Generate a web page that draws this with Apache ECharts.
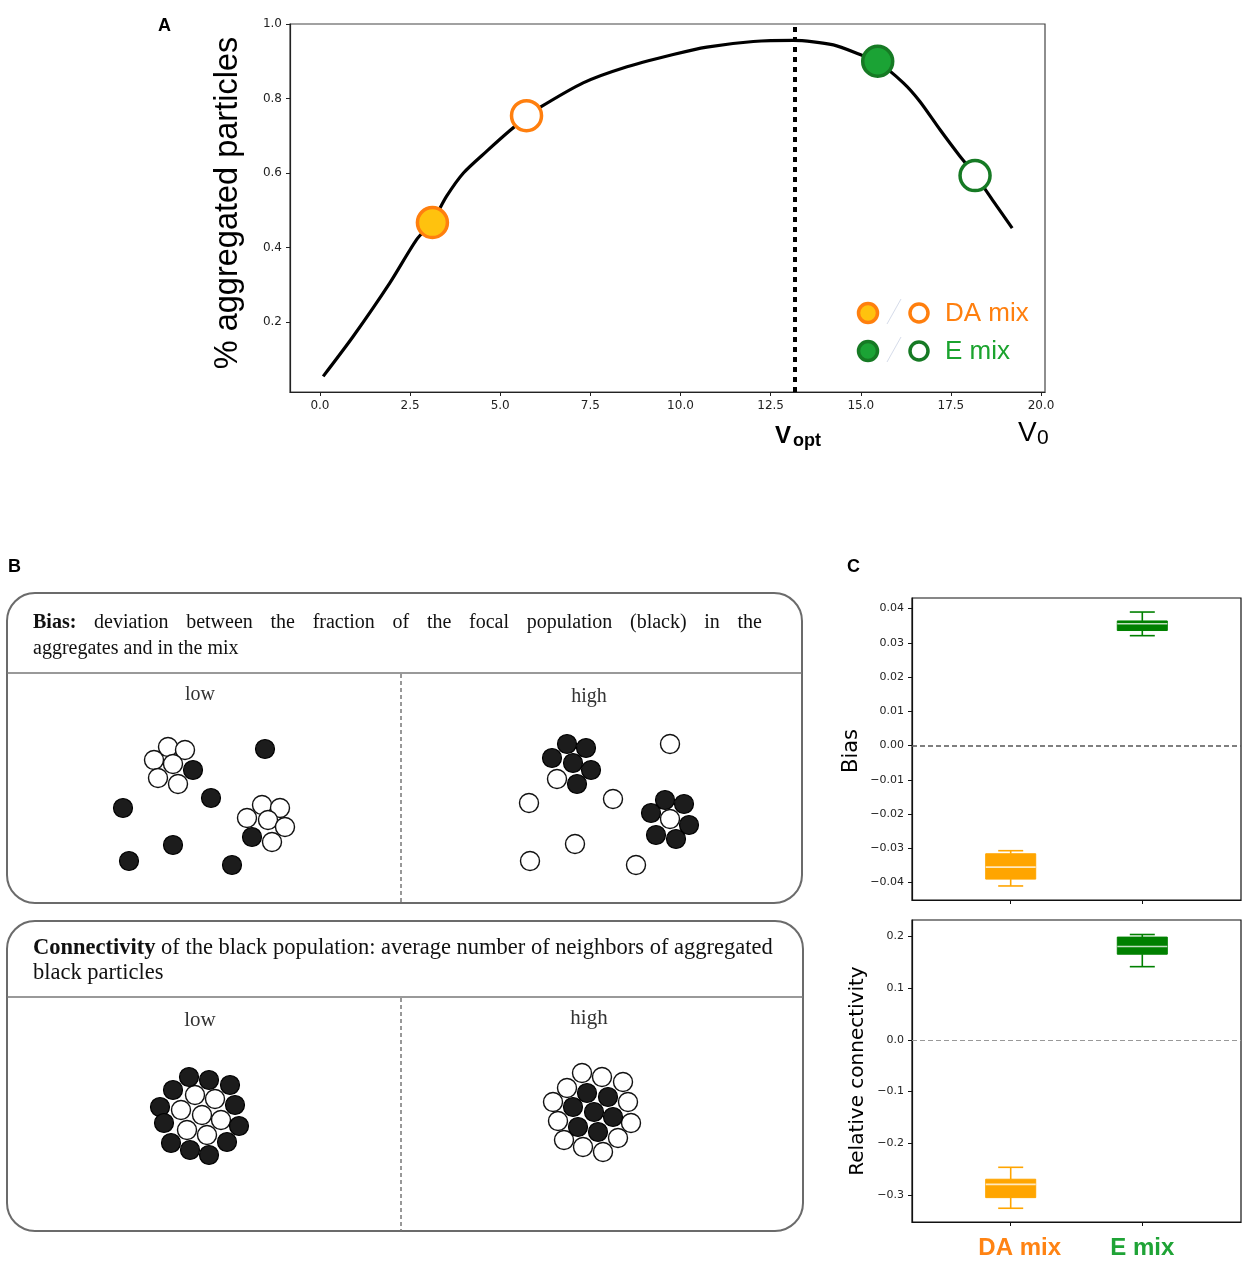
<!DOCTYPE html>
<html>
<head>
<meta charset="utf-8">
<title>Aggregation, bias and connectivity</title>
<script src="https://cdn.jsdelivr.net/npm/echarts@6/dist/echarts.min.js"></script>
<style>
html, body { margin: 0; padding: 0; background: #fff; }
#main { width: 1248px; height: 1261px; }
</style>
</head>
<body>
<div id="main"></div>
<script>
// ---- panel A: aggregated fraction against v0 ----
var v0Values = [0.09, 0.92, 1.94, 2.68, 3.12, 3.51, 3.98, 4.62, 5.27, 5.73, 6.10, 7.30, 8.41, 9.80,
    10.73, 12.02, 13.13, 14.24, 14.98, 15.47, 16.18, 16.64, 17.2, 17.75, 18.17, 18.68, 19.2];
var aggValues = [0.054, 0.161, 0.305, 0.421, 0.470, 0.537, 0.600, 0.658, 0.714, 0.750, 0.776, 0.842, 0.882, 0.918,
    0.938, 0.953, 0.956, 0.944, 0.918, 0.898, 0.842, 0.792, 0.716, 0.645, 0.595, 0.524, 0.452];
var daPoints = [[3.12, 0.467], [5.73, 0.754]];   // filled, open
var ePoints = [[15.47, 0.90], [18.17, 0.593]];   // filled, open
var vOpt = 13.18;
var xTicksA = [0, 2.5, 5, 7.5, 10, 12.5, 15, 17.5, 20];
var yTicksA = [0.2, 0.4, 0.6, 0.8, 1.0];

// ---- panel B: particle sketches (page pixels) ----
var whiteParticles = [
    [168, 747], [185, 750], [154, 760], [173, 764], [158, 778], [178, 784],
    [262, 805], [280, 808], [247, 818], [268, 820], [285, 827], [272, 842],
    [557, 779], [670, 819], [670, 744], [613, 799], [529, 803], [575, 844], [530, 861], [636, 865],
    [195, 1095], [215, 1099], [181, 1110], [202, 1115], [221, 1120], [187, 1130], [207, 1135],
    [582, 1073], [602, 1077], [623, 1082], [567, 1088], [628, 1102], [553, 1102], [631, 1123],
    [558, 1121], [618, 1138], [564, 1140], [583, 1147], [603, 1152]
];
var blackParticles = [
    [193, 770], [252, 837], [265, 749], [211, 798], [123, 808], [173, 845], [129, 861], [232, 865],
    [567, 744], [586, 748], [552, 758], [573, 763], [591, 770], [577, 784],
    [665, 800], [684, 804], [651, 813], [689, 825], [656, 835], [676, 839],
    [189, 1077], [209, 1080], [230, 1085], [173, 1090], [235, 1105], [160, 1107], [239, 1126],
    [164, 1123], [227, 1142], [171, 1143], [190, 1150], [209, 1155],
    [587, 1093], [608, 1097], [573, 1107], [594, 1112], [613, 1117], [578, 1127], [598, 1132]
];

// ---- panel C: boxplots [low whisker, q1, median, q3, high whisker] ----
var mixNames = ['DA mix', 'E mix'];
var biasDA = [-0.041, -0.039, -0.0355, -0.0316, -0.0307];
var biasE = [0.0321, 0.0336, 0.0356, 0.0364, 0.039];
var connDA = [-0.325, -0.3045, -0.279, -0.269, -0.246];
var connE = [0.141, 0.165, 0.180, 0.198, 0.203];
var biasTicks = [-0.04, -0.03, -0.02, -0.01, 0, 0.01, 0.02, 0.03, 0.04];
var connTicks = [-0.3, -0.2, -0.1, 0, 0.1, 0.2];

var boxColors = ['#FFA500', '#008000'];
var tickFont = 'DejaVu Sans';
var serif = 'Liberation Serif';

function fmt(v, d) {
    return (v < -1e-9 ? '\u2212' : '') + Math.abs(v).toFixed(d);
}

function renderBox(params, api) {
    var x = api.value(0);
    var lo = api.coord([x, api.value(1)]);
    var q1 = api.coord([x, api.value(2)]);
    var md = api.coord([x, api.value(3)]);
    var q3 = api.coord([x, api.value(4)]);
    var hi = api.coord([x, api.value(5)]);
    var w = api.size([0.38, 0])[0];
    var c = boxColors[params.dataIndex];
    var cx = q1[0];
    var ln = { stroke: c, lineWidth: 1.6 };
    return {
        type: 'group',
        children: [
            { type: 'line', shape: { x1: cx, y1: q1[1], x2: cx, y2: lo[1] }, style: ln },
            { type: 'line', shape: { x1: cx, y1: q3[1], x2: cx, y2: hi[1] }, style: ln },
            { type: 'line', shape: { x1: cx - w / 4, y1: lo[1], x2: cx + w / 4, y2: lo[1] }, style: ln },
            { type: 'line', shape: { x1: cx - w / 4, y1: hi[1], x2: cx + w / 4, y2: hi[1] }, style: ln },
            { type: 'rect', shape: { x: cx - w / 2, y: q3[1], width: w, height: q1[1] - q3[1] },
              style: { fill: c, stroke: c, lineWidth: 1 } },
            { type: 'line', shape: { x1: cx - w / 2, y1: md[1], x2: cx + w / 2, y2: md[1] },
              style: { stroke: 'rgba(255,255,255,0.75)', lineWidth: 1.6 } }
        ]
    };
}

function boxAxisX(idx, showLabels) {
    return {
        gridIndex: idx, type: 'value', min: 0.25, max: 2.75,
        axisLine: { onZero: false, lineStyle: { color: '#111', width: 1.2 } },
        axisTick: { customValues: [1, 2], length: 4, lineStyle: { color: '#111' } },
        axisLabel: {
            show: showLabels, customValues: [1, 2], margin: 14,
            formatter: function (v) { return v === 1 ? '{da|' + mixNames[0] + '}' : '{e|' + mixNames[1] + '}'; },
            rich: {
                da: { fontFamily: 'Liberation Sans', fontWeight: 'bold', fontSize: 24, color: '#FF8313', padding: [0, 0, 0, 18] },
                e: { fontFamily: 'Liberation Sans', fontWeight: 'bold', fontSize: 24, color: '#1FA336' }
            }
        },
        splitLine: { show: false }
    };
}

function boxAxisY(idx, min, max, ticks, dec) {
    return {
        gridIndex: idx, type: 'value', min: min, max: max,
        axisLine: { show: true, onZero: false, lineStyle: { color: '#111', width: 1.2 } },
        axisTick: { show: true, customValues: ticks, length: 4, lineStyle: { color: '#111' } },
        axisLabel: { customValues: ticks, margin: 8, fontFamily: tickFont, fontSize: 11, color: '#222',
            formatter: function (v) { return fmt(v, dec); } },
        splitLine: { show: false }
    };
}

var myChart = echarts.init(document.getElementById('main'), null, { renderer: 'canvas' });

// justified first line of the bias caption, spread from x=33 to x=762
var headWords = ['Bias:', 'deviation', 'between', 'the', 'fraction', 'of', 'the', 'focal', 'population', '(black)', 'in', 'the'];
var ctx = document.createElement('canvas').getContext('2d');
var widths = headWords.map(function (w, i) {
    ctx.font = (i === 0 ? 'bold ' : '') + '20px "' + serif + '"';
    return ctx.measureText(w).width;
});
var totalW = widths.reduce(function (a, b) { return a + b; }, 0);
var gap = (762 - 33 - totalW) / (headWords.length - 1);

var graphics = [
    { type: 'text', x: 158, y: 26, style: { text: 'A', fontFamily: 'Liberation Sans', fontWeight: 'bold', fontSize: 18, fill: '#000', verticalAlign: 'middle' } },
    { type: 'text', x: 8, y: 567, style: { text: 'B', fontFamily: 'Liberation Sans', fontWeight: 'bold', fontSize: 18, fill: '#000', verticalAlign: 'middle' } },
    { type: 'text', x: 847, y: 567, style: { text: 'C', fontFamily: 'Liberation Sans', fontWeight: 'bold', fontSize: 18, fill: '#000', verticalAlign: 'middle' } },
    // y axis title of A
    { type: 'text', x: 228, y: 203, rotation: Math.PI / 2,
      style: { text: '% aggregated particles', fontFamily: 'Liberation Sans', fontSize: 32.5, fill: '#000', align: 'center', verticalAlign: 'middle' } },
    // x annotations of A
    { type: 'text', x: 775, y: 436, style: { text: 'V', fontFamily: 'Liberation Sans', fontWeight: 'bold', fontSize: 24, fill: '#000', verticalAlign: 'middle' } },
    { type: 'text', x: 793, y: 441, style: { text: 'opt', fontFamily: 'Liberation Sans', fontWeight: 'bold', fontSize: 18, fill: '#000', verticalAlign: 'middle' } },
    { type: 'text', x: 1018, y: 433, style: { text: 'V', fontFamily: 'Liberation Sans', fontSize: 28, fill: '#000', verticalAlign: 'middle' } },
    { type: 'text', x: 1037, y: 438, style: { text: '0', fontFamily: 'Liberation Sans', fontSize: 21, fill: '#000', verticalAlign: 'middle' } },
    // legend of A
    { type: 'circle', shape: { cx: 868, cy: 313, r: 9.5 }, style: { fill: '#FFC20E', stroke: '#FF7F0E', lineWidth: 3.5 } },
    { type: 'line', shape: { x1: 887, y1: 324, x2: 901, y2: 299 }, style: { stroke: '#D6DCEA', lineWidth: 1 } },
    { type: 'circle', shape: { cx: 919, cy: 313, r: 9 }, style: { fill: '#fff', stroke: '#FF7F0E', lineWidth: 3.5 } },
    { type: 'text', x: 945, y: 314, style: { text: 'DA mix', fontFamily: 'Liberation Sans', fontSize: 26, fill: '#FF7F0E', verticalAlign: 'middle' } },
    { type: 'circle', shape: { cx: 868, cy: 351, r: 9.5 }, style: { fill: '#1BA335', stroke: '#167A24', lineWidth: 3.5 } },
    { type: 'line', shape: { x1: 887, y1: 362, x2: 901, y2: 337 }, style: { stroke: '#D6DCEA', lineWidth: 1 } },
    { type: 'circle', shape: { cx: 919, cy: 351, r: 9 }, style: { fill: '#fff', stroke: '#167A24', lineWidth: 3.5 } },
    { type: 'text', x: 945, y: 352, style: { text: 'E mix', fontFamily: 'Liberation Sans', fontSize: 26, fill: '#1BA32E', verticalAlign: 'middle' } },
    // panel B frames
    { type: 'rect', shape: { x: 7, y: 593, width: 795, height: 310, r: 28 }, style: { fill: 'none', stroke: '#6b6b6b', lineWidth: 2 } },
    { type: 'line', shape: { x1: 7, y1: 673, x2: 802, y2: 673 }, style: { stroke: '#777', lineWidth: 1.5 } },
    { type: 'line', shape: { x1: 401, y1: 674, x2: 401, y2: 903 }, style: { stroke: '#777', lineWidth: 1.5, lineDash: [4, 3] } },
    { type: 'rect', shape: { x: 7, y: 921, width: 796, height: 310, r: 28 }, style: { fill: 'none', stroke: '#6b6b6b', lineWidth: 2 } },
    { type: 'line', shape: { x1: 7, y1: 997, x2: 803, y2: 997 }, style: { stroke: '#777', lineWidth: 1.5 } },
    { type: 'line', shape: { x1: 401, y1: 998, x2: 401, y2: 1231 }, style: { stroke: '#777', lineWidth: 1.5, lineDash: [4, 3] } },
    { type: 'text', x: 33, y: 649, style: { text: 'aggregates and in the mix', fontFamily: serif, fontSize: 20, fill: '#111', verticalAlign: 'middle' } },
    { type: 'text', x: 200, y: 695, style: { text: 'low', fontFamily: serif, fontSize: 20, fill: '#333', align: 'center', verticalAlign: 'middle' } },
    { type: 'text', x: 589, y: 697, style: { text: 'high', fontFamily: serif, fontSize: 20, fill: '#333', align: 'center', verticalAlign: 'middle' } },
    { type: 'text', x: 33, y: 948, style: { text: '{b|Connectivity} of the black population: average number of neighbors of aggregated',
      fontFamily: serif, fontSize: 22.5, fill: '#111', verticalAlign: 'middle',
      rich: { b: { fontFamily: serif, fontSize: 22.5, fontWeight: 'bold', fill: '#111' } } } },
    { type: 'text', x: 33, y: 973, style: { text: 'black particles', fontFamily: serif, fontSize: 22.5, fill: '#111', verticalAlign: 'middle' } },
    { type: 'text', x: 200, y: 1020, style: { text: 'low', fontFamily: serif, fontSize: 21, fill: '#333', align: 'center', verticalAlign: 'middle' } },
    { type: 'text', x: 589, y: 1018, style: { text: 'high', fontFamily: serif, fontSize: 21, fill: '#333', align: 'center', verticalAlign: 'middle' } },
    // panel C axis titles
    { type: 'text', x: 852, y: 751, rotation: Math.PI / 2,
      style: { text: 'Bias', fontFamily: tickFont, fontSize: 21, fill: '#000', align: 'center', verticalAlign: 'middle' } },
    { type: 'text', x: 858, y: 1071, rotation: Math.PI / 2,
      style: { text: 'Relative connectivity', fontFamily: tickFont, fontSize: 20, fill: '#000', align: 'center', verticalAlign: 'middle' } }
];
var wx = 33;
headWords.forEach(function (w, i) {
    graphics.push({ type: 'text', x: wx, y: 623, style: { text: w, fontFamily: serif, fontSize: 20,
        fontWeight: i === 0 ? 'bold' : 'normal', fill: '#111', verticalAlign: 'middle' } });
    wx += widths[i] + gap;
});

var option = {
    backgroundColor: '#fff',
    animation: false,
    grid: [
        { left: 290, right: 203, top: 24, bottom: 869, show: true, borderColor: '#444', borderWidth: 1.2 },
        { left: 0, right: 0, top: 0, bottom: 0 },
        { left: 912, right: 7, top: 598, bottom: 361, show: true, borderColor: '#111', borderWidth: 1.2 },
        { left: 912, right: 7, top: 920, bottom: 39, show: true, borderColor: '#111', borderWidth: 1.2 }
    ],
    xAxis: [
        {
            gridIndex: 0, type: 'value', min: -0.83, max: 20.11,
            axisLine: { onZero: false, lineStyle: { color: '#222', width: 1.2 } },
            axisTick: { customValues: xTicksA, length: 4, lineStyle: { color: '#222' } },
            axisLabel: { customValues: xTicksA, margin: 8, fontFamily: tickFont, fontSize: 12, color: '#222',
                formatter: function (v) { return v.toFixed(1); } },
            splitLine: { show: false }
        },
        { gridIndex: 1, type: 'value', min: 0, max: 1248, show: false },
        boxAxisX(2, false),
        boxAxisX(3, true)
    ],
    yAxis: [
        {
            gridIndex: 0, type: 'value', min: 0.012, max: 1.0,
            axisLine: { show: true, onZero: false, lineStyle: { color: '#222', width: 1.2 } },
            axisTick: { show: true, customValues: yTicksA, length: 4, lineStyle: { color: '#222' } },
            axisLabel: { customValues: yTicksA, margin: 8, fontFamily: tickFont, fontSize: 12, color: '#222',
                formatter: function (v) { return v.toFixed(1); } },
            splitLine: { show: false }
        },
        { gridIndex: 1, type: 'value', min: 0, max: 1261, inverse: true, show: false },
        boxAxisY(2, -0.0451, 0.0431, biasTicks, 2),
        boxAxisY(3, -0.3515, 0.231, connTicks, 1)
    ],
    graphic: graphics,
    series: [
        {
            name: 'aggregated', type: 'line', xAxisIndex: 0, yAxisIndex: 0,
            data: v0Values.map(function (v, i) { return [v, aggValues[i]]; }),
            showSymbol: false, smooth: 0.25, silent: true,
            lineStyle: { color: '#000', width: 3.2 },
            markLine: {
                silent: true, symbol: ['none', 'none'], label: { show: false },
                lineStyle: { color: '#000', width: 4, type: [5, 5] },
                data: [{ xAxis: vOpt }]
            }
        },
        {
            name: 'DA mix', type: 'scatter', xAxisIndex: 0, yAxisIndex: 0, symbolSize: 30, z: 5,
            data: [
                { value: daPoints[0], itemStyle: { color: '#FFC20E', borderColor: '#FF7F0E', borderWidth: 3.5, opacity: 1 } },
                { value: daPoints[1], itemStyle: { color: '#fff', borderColor: '#FF7F0E', borderWidth: 3.5, opacity: 1 } }
            ]
        },
        {
            name: 'E mix', type: 'scatter', xAxisIndex: 0, yAxisIndex: 0, symbolSize: 30, z: 5,
            data: [
                { value: ePoints[0], itemStyle: { color: '#1BA335', borderColor: '#167A24', borderWidth: 3.5, opacity: 1 } },
                { value: ePoints[1], itemStyle: { color: '#fff', borderColor: '#167A24', borderWidth: 3.5, opacity: 1 } }
            ]
        },
        {
            name: 'other particles', type: 'scatter', xAxisIndex: 1, yAxisIndex: 1, silent: true,
            symbolSize: 19, data: whiteParticles,
            itemStyle: { color: '#fff', borderColor: '#111', borderWidth: 1.4, opacity: 1 }
        },
        {
            name: 'focal particles', type: 'scatter', xAxisIndex: 1, yAxisIndex: 1, silent: true,
            symbolSize: 19, data: blackParticles,
            itemStyle: { color: '#1c1c1c', borderColor: '#000', borderWidth: 1.2, opacity: 1 }
        },
        {
            name: 'Bias', type: 'custom', xAxisIndex: 2, yAxisIndex: 2, silent: true,
            renderItem: renderBox,
            data: [[1].concat(biasDA), [2].concat(biasE)],
            markLine: {
                silent: true, symbol: ['none', 'none'], label: { show: false },
                lineStyle: { color: '#555', width: 1.5, type: [5, 3] },
                data: [{ yAxis: 0 }]
            }
        },
        {
            name: 'Relative connectivity', type: 'custom', xAxisIndex: 3, yAxisIndex: 3, silent: true,
            renderItem: renderBox,
            data: [[1].concat(connDA), [2].concat(connE)],
            markLine: {
                silent: true, symbol: ['none', 'none'], label: { show: false },
                lineStyle: { color: '#999', width: 1.2, type: [5, 3] },
                data: [{ yAxis: 0 }]
            }
        }
    ]
};
myChart.setOption(option);
</script>
</body>
</html>
